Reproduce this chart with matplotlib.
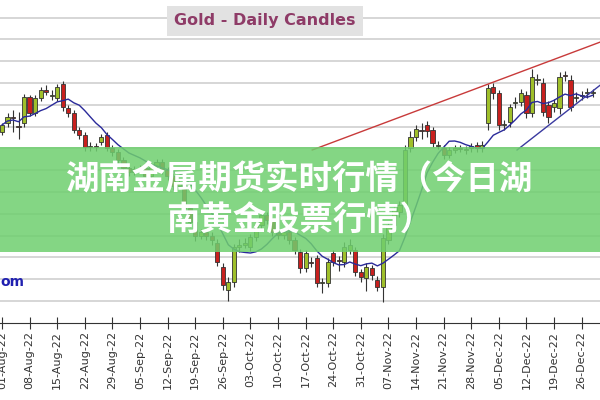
import matplotlib
matplotlib.use("Agg")
import matplotlib.pyplot as plt
from matplotlib.patches import Rectangle
import numpy as np
import pandas as pd

week_labels = ["01-Aug-22","08-Aug-22","15-Aug-22","22-Aug-22","29-Aug-22","05-Sep-22",
               "12-Sep-22","19-Sep-22","26-Sep-22","03-Oct-22","10-Oct-22","17-Oct-22",
               "24-Oct-22","31-Oct-22","07-Nov-22","14-Nov-22","21-Nov-22","28-Nov-22",
               "05-Dec-22","12-Dec-22","19-Dec-22","26-Dec-22"]

opens = [1755,1764,1770,1761,1764,1790,1774,1789,1797,1791,1789,1803,1779,1774,1757,1752,1740,1741,1745,1752,
         1739,1735,1727,1719,1715,1718,1719,1711,1721,1725,1717,1711,1701,1704,1679,1665,1651,1655,1651,1644,
         1620,1597,1605,1640,1642,1640,1650,1662,1672,1667,1655,1652,1655,1647,1635,1619,1625,1629,1604,1604,
         1634,1627,1625,1637,1637,1615,1609,1619,1607,1600,1647,1662,1675,1682,1739,1750,1757,1762,1757,1741,
         1739,1732,1737,1739,1738,1739,1742,1739,1764,1800,1794,1762,1765,1784,1785,1792,1774,1807,1804,1782,
         1780,1779,1812,1807,1789,1791,1794,1794]
closes = [1762,1770,1769,1760,1790,1774,1789,1797,1795,1792,1800,1780,1774,1757,1752,1740,1741,1740,1750,1739,
          1735,1727,1719,1715,1718,1719,1711,1721,1725,1717,1711,1701,1704,1679,1665,1651,1655,1651,1647,1625,
          1602,1605,1640,1642,1644,1650,1662,1672,1667,1655,1652,1655,1647,1637,1619,1634,1624,1604,1605,1625,
          1625,1626,1640,1642,1615,1610,1620,1612,1600,1649,1662,1677,1682,1737,1750,1758,1756,1756,1744,1742,
          1732,1737,1739,1738,1737,1741,1739,1742,1799,1794,1762,1763,1780,1785,1794,1774,1810,1808,1775,1770,
          1784,1810,1811,1780,1790,1792,1795,1794]
highs = [1764,1774,1777,1775,1793,1792,1792,1800,1802,1797,1803,1806,1782,1777,1760,1755,1745,1744,1753,1755,
         1742,1738,1730,1722,1721,1722,1723,1724,1728,1728,1720,1714,1708,1707,1682,1668,1658,1659,1655,1648,
         1624,1610,1643,1648,1649,1653,1666,1676,1675,1669,1658,1658,1658,1650,1638,1637,1630,1632,1609,1629,
         1637,1631,1645,1648,1640,1618,1624,1622,1611,1653,1666,1680,1686,1742,1756,1762,1764,1766,1760,1746,
         1742,1740,1742,1742,1741,1744,1745,1746,1803,1804,1797,1767,1783,1790,1798,1796,1818,1813,1809,1786,
         1788,1815,1816,1812,1795,1796,1799,1798]
lows = [1752,1760,1755,1748,1760,1771,1771,1786,1792,1787,1786,1776,1770,1754,1748,1736,1736,1736,1742,1736,
        1731,1723,1715,1711,1712,1714,1707,1708,1718,1713,1707,1697,1698,1675,1660,1646,1648,1647,1642,1621,
        1597,1586,1600,1635,1639,1636,1646,1658,1663,1651,1648,1648,1643,1633,1614,1615,1620,1600,1594,1600,
        1621,1616,1620,1633,1611,1605,1596,1607,1596,1585,1643,1658,1670,1678,1735,1746,1748,1750,1740,1738,
        1728,1729,1734,1735,1733,1735,1735,1735,1757,1788,1757,1757,1760,1779,1781,1769,1770,1802,1771,1764,
        1775,1773,1806,1776,1785,1787,1789,1790]

n = len(closes)
idx = np.arange(n)

fig = plt.figure(figsize=(6, 4), dpi=100)
ax = fig.add_axes([0, 1 - 323/400, 1, 323/400])
ax.set_xlim(-0.36, 108.33)
ax.set_ylim(1564, 1887)

grid_levels = np.arange(1586, 1880, 21.8)
for g in grid_levels:
    ax.axhline(g, color="#cfcfcf", lw=1.2, zorder=0)

green = "#9fbf2a"; red = "#c8201e"
for i in idx:
    o, c, h, l = opens[i], closes[i], highs[i], lows[i]
    col = green if c >= o else red
    ax.vlines(i, l, h, color="#333333", lw=0.8, zorder=2)
    b = min(o, c); hgt = max(abs(c - o), 1.2)
    ax.add_patch(Rectangle((i - 0.38, b), 0.76, hgt, facecolor=col, edgecolor="#333333", lw=0.6, zorder=3))

ma = pd.Series(closes).rolling(9, min_periods=1).mean()
ax.plot(idx, ma, color="#2a2a9a", lw=1.0, zorder=4)

tl_red_x = [56.2, 108.4]; tl_red_y = [1737, 1845]
ax.plot(tl_red_x, tl_red_y, color="#c83a3a", lw=1.0, zorder=4)
tl_blue_x = [93.3, 108.4]; tl_blue_y = [1737, 1802]
ax.plot(tl_blue_x, tl_blue_y, color="#3a3aa0", lw=1.0, zorder=4)

for s in ["top", "right", "left"]:
    ax.spines[s].set_visible(False)
ax.spines["bottom"].set_color("#333333")
ax.set_yticks([])
ax.set_xticks(np.arange(0, n, 5))
ax.set_xticklabels(week_labels, rotation=90, fontsize=8, color="#333333")
ax.tick_params(axis="x", direction="inout", length=8, color="#333333", pad=2)

fig.text(265/600, 1 - 21/400, "Gold - Daily Candles", ha="center", va="center",
         fontsize=11.5, fontweight="bold", color="#8e3b67",
         bbox=dict(boxstyle="square,pad=0.45", facecolor="#e2e2e2", edgecolor="none"))
fig.text(0, 1 - 282/400, "om", ha="left", va="center", fontsize=10, fontweight="bold", color="#2020b0")

fig.patches.append(Rectangle((0, 1 - 252/400), 1, 105/400, transform=fig.transFigure,
                             facecolor="#6fcf6f", alpha=0.85, edgecolor="none", zorder=5))
fam = ["Noto Sans CJK SC", "DejaVu Sans"]
fig.text(0.5, 1 - 180/400, "湖南金属期货实时行情（今日湖", ha="center", va="center",
         fontsize=24, fontweight="bold", color="white", family=fam, zorder=6)
fig.text(0.5, 1 - 221/400, "南黄金股票行情）", ha="center", va="center",
         fontsize=24, fontweight="bold", color="white", family=fam, zorder=6)

fig.savefig("out.png", dpi=100)
